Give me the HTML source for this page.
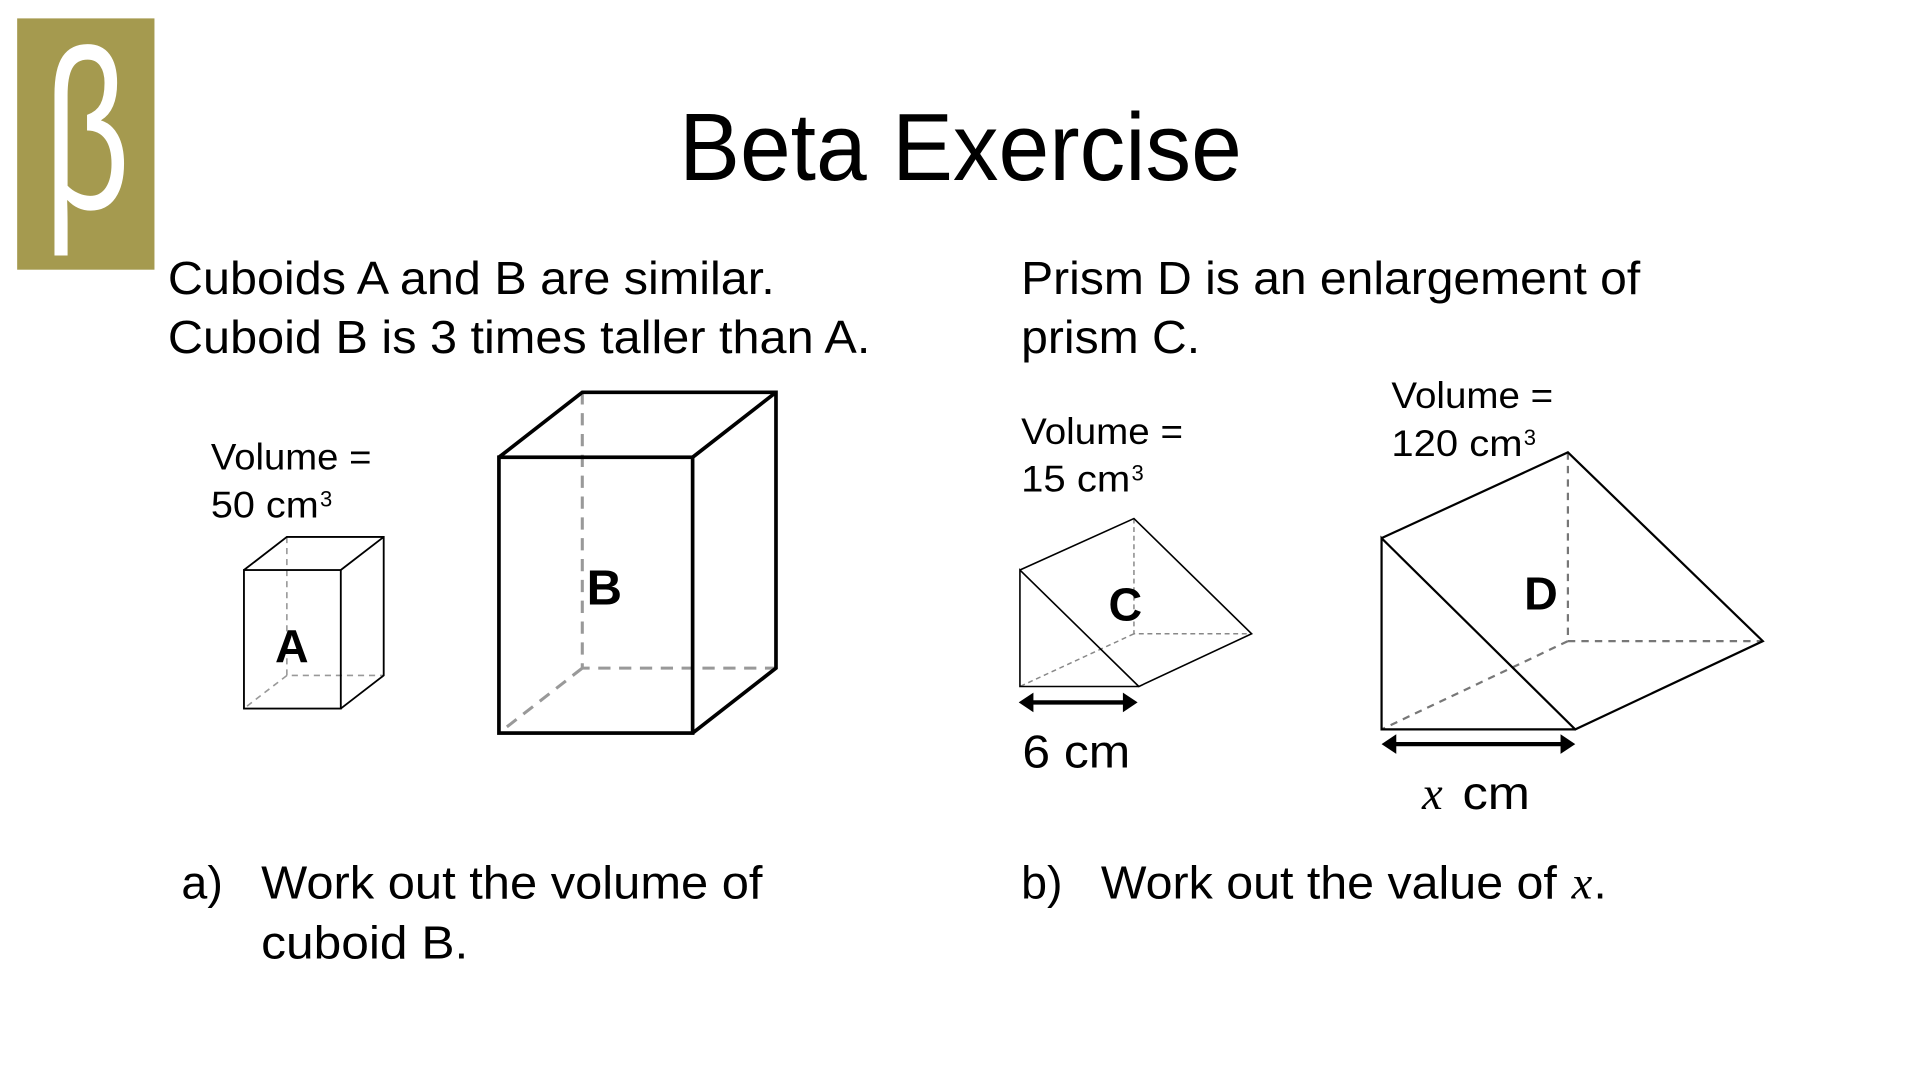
<!DOCTYPE html>
<html><head><meta charset="utf-8"><style>
html,body{margin:0;padding:0;background:#fff;width:1920px;height:1080px;overflow:hidden}
svg{display:block}
text{font-family:"Liberation Sans",sans-serif;fill:#000}
</style></head><body>
<svg width="1920" height="1080" viewBox="0 0 1566 881" preserveAspectRatio="xMinYMin meet" xmlns="http://www.w3.org/2000/svg">
<rect x="14" y="15" width="112" height="205" fill="#a59a4f"/>
<text x="36" y="170" font-size="185" style="fill:#fff" textLength="70" lengthAdjust="spacingAndGlyphs">β</text>

<text x="554" y="147" font-size="78" textLength="459" lengthAdjust="spacingAndGlyphs">Beta Exercise</text>

<g font-size="38">
<text x="137" y="240" textLength="495" lengthAdjust="spacingAndGlyphs">Cuboids A and B are similar.</text>
<text x="137" y="288" textLength="573" lengthAdjust="spacingAndGlyphs">Cuboid B is 3 times taller than A.</text>
<text x="833" y="240" textLength="505" lengthAdjust="spacingAndGlyphs">Prism D is an enlargement of</text>
<text x="833" y="288" textLength="146" lengthAdjust="spacingAndGlyphs">prism C.</text>
<text x="148" y="733">a)</text>
<text x="213" y="733" textLength="409" lengthAdjust="spacingAndGlyphs">Work out the volume of</text>
<text x="213" y="782" textLength="169" lengthAdjust="spacingAndGlyphs">cuboid B.</text>
<text x="833" y="733">b)</text>
<text x="898" y="733" textLength="372" lengthAdjust="spacingAndGlyphs">Work out the value of</text>
<text x="1282" y="733" style="font-family:'Liberation Serif',serif;font-style:italic">x</text>
<text x="1300" y="733">.</text>
<text x="834" y="626" textLength="88" lengthAdjust="spacingAndGlyphs">6 cm</text>
<text x="1160" y="660" style="font-family:'Liberation Serif',serif;font-style:italic">x</text>
<text x="1193" y="660" textLength="55" lengthAdjust="spacingAndGlyphs">cm</text>
</g>

<g font-size="30">
<text x="172" y="383" textLength="131" lengthAdjust="spacingAndGlyphs">Volume =</text>
<text x="172" y="422" textLength="88" lengthAdjust="spacingAndGlyphs">50 cm</text>
<text x="261" y="413" font-size="18">3</text>
<text x="833" y="362" textLength="132" lengthAdjust="spacingAndGlyphs">Volume =</text>
<text x="833" y="401" textLength="89" lengthAdjust="spacingAndGlyphs">15 cm</text>
<text x="923" y="392" font-size="18">3</text>
<text x="1135" y="333" textLength="132" lengthAdjust="spacingAndGlyphs">Volume =</text>
<text x="1135" y="372" textLength="107" lengthAdjust="spacingAndGlyphs">120 cm</text>
<text x="1243" y="363" font-size="18">3</text>
</g>

<g fill="none" stroke="#999" stroke-width="1.3" stroke-dasharray="5,4">
<path d="M234 438 V551 H313 M234 551 L199 578"/>
</g>
<g fill="none" stroke="#000" stroke-width="1.5">
<rect x="199" y="465" width="79" height="113"/>
<path d="M199 465 L234 438 H313 V551 L278 578 M278 465 L313 438"/>
</g>
<text x="238" y="540" font-size="38" font-weight="bold" text-anchor="middle">A</text>

<g fill="none" stroke="#999" stroke-width="2.5" stroke-dasharray="10,7">
<path d="M475 320 V545 H633 M475 545 L407 598"/>
</g>
<g fill="none" stroke="#000" stroke-width="3">
<rect x="407" y="373" width="158" height="225"/>
<path d="M407 373 L475 320 H633 V545 L565 598 M565 373 L633 320"/>
</g>
<text x="493" y="493" font-size="40" font-weight="bold" text-anchor="middle">B</text>

<g fill="none" stroke="#888" stroke-width="1.2" stroke-dasharray="4,3">
<path d="M925 423 V517 H1021 M925 517 L832 560"/>
</g>
<g fill="none" stroke="#000" stroke-width="1.3">
<path d="M832 465 L925 423 L1021 517 L929 560 L832 465 V560 H929"/>
</g>
<text x="918" y="506" font-size="38" font-weight="bold" text-anchor="middle">C</text>
<g stroke="#000" stroke-width="3.5"><line x1="840" y1="573" x2="919" y2="573"/></g>
<path d="M831 573 L843 565 V581 Z M928 573 L916 565 V581 Z" fill="#000"/>

<g fill="none" stroke="#777" stroke-width="1.8" stroke-dasharray="6,5">
<path d="M1279 369 V523 H1438 M1279 523 L1127 595"/>
</g>
<g fill="none" stroke="#000" stroke-width="1.8">
<path d="M1127 439 L1279 369 L1438 523 L1285 595 L1127 439 V595 H1285"/>
</g>
<text x="1257" y="497" font-size="38" font-weight="bold" text-anchor="middle">D</text>
<g stroke="#000" stroke-width="3.5"><line x1="1136" y1="607" x2="1276" y2="607"/></g>
<path d="M1127 607 L1139 599 V615 Z M1285 607 L1273 599 V615 Z" fill="#000"/>
</svg>
</body></html>
